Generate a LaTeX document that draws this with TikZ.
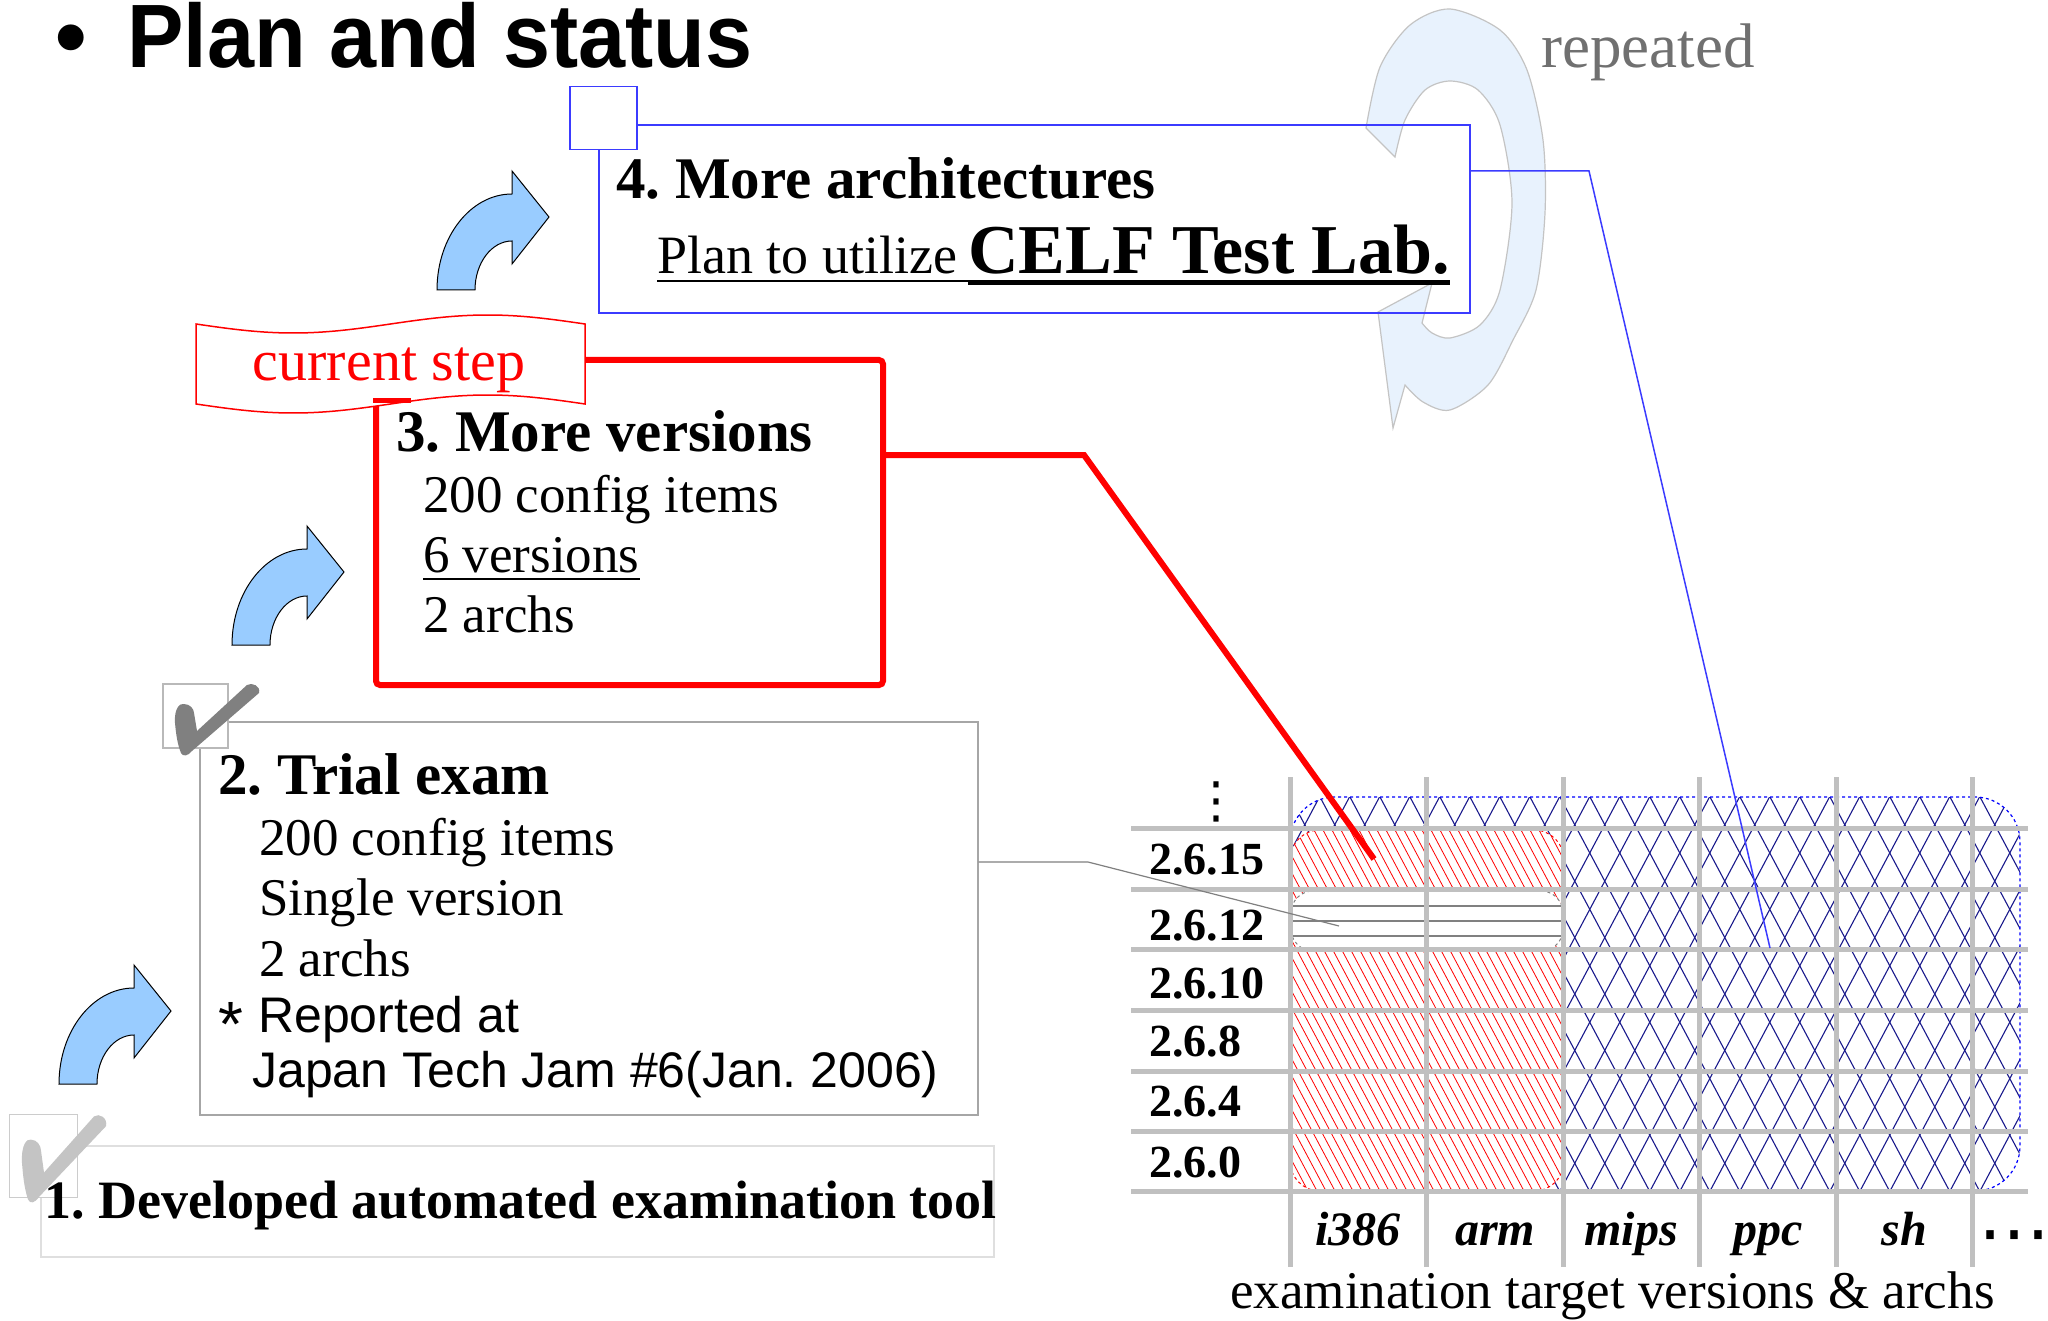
\documentclass[tikz,border=0pt]{standalone}
\usepackage{fontspec}
\setmainfont{Liberation Serif}
\setsansfont{Liberation Sans}
\newfontfamily\symfont{DejaVu Sans}
\newcommand\fsz[1]{\fontsize{#1}{#1}\selectfont}
\frenchspacing
\definecolor{arrowblue}{HTML}{99CCFF}
\definecolor{ringfill}{HTML}{E8F2FD}
\definecolor{ringline}{HTML}{C4C4C4}
\definecolor{gridgray}{HTML}{C0C0C0}
\definecolor{navyhatch}{HTML}{1A1A8C}
\definecolor{boxblue}{HTML}{3B3BFF}
\definecolor{checkdark}{HTML}{808080}
\definecolor{checklight}{HTML}{C4C4C4}
\definecolor{textgray}{HTML}{707070}
\tikzset{
  txt/.style={inner sep=0pt, anchor=base west},
  hdr/.style={txt, font=\bfseries\fsz{59}},
  item/.style={txt, font=\fsz{53}},
  frame/.style={draw, fill=none, inner sep=0pt, anchor=north west},
  gridline/.style={draw=gridgray, line width=5},
  bluehatch/.style={draw=navyhatch, line width=1.1},
  redhatch/.style={draw=red, line width=0.8},
  collabel/.style={inner sep=0pt, anchor=base, font=\bfseries\itshape\fsz{48}},
  rowlabel/.style={txt, font=\bfseries\fsz{46}},
  bendarrow/.pic={
    \path[pic actions] (0,0) .. controls (0,-53) and (33.6,-96) .. (75,-96)
      -- (75,-119) -- (112,-73) -- (75,-26) -- (75,-49)
      .. controls (54.6,-49) and (38,-27) .. (38,0) -- cycle;
  },
  checkmark/.pic={
    \path[pic actions] (13,40) .. controls (12,25) and (18,20) .. (22,21)
      .. controls (28,21) and (32,26) .. (32,30) -- (35,48) -- (85,2)
      .. controls (90,-1) and (99,3) .. (97,10) -- (30,68)
      .. controls (26,73) and (21,74) .. (19,70)
      .. controls (15,60) and (14,50) .. (13,40) -- cycle;
  }
}
\begin{document}
\begin{tikzpicture}[x=1pt, y=-1pt]
\useasboundingbox (0,0) rectangle (2048,1321);
\fill[white] (0,0) rectangle (2048,1321);

% heading
\node[txt, font=\sffamily\bfseries\fsz{90}] (bullet) at (55,68) {\textbullet};
\node[txt, font=\sffamily\bfseries\fsz{90}] (title) at (127,68) {\scalebox{0.94}[1]{Plan and status}};

% circular "repeated" arrow
\path[fill=ringfill, draw=ringline, line width=1.2]
  (1366,128) -- plot[smooth] coordinates {(1366,128) (1380,67) (1410,25) (1450,9) (1500,30) (1527,70) (1543,140) (1545,213) (1536,290) (1513,340) (1488,385) (1450,410) (1423,402) (1405,385)}
  -- (1393,428) -- (1378,312) -- (1432,283)
  -- plot[smooth] coordinates {(1422,323) (1432,333) (1450,338) (1480,325) (1500,290) (1512,203) (1500,125) (1478,90) (1450,81) (1425,90) (1405,120) (1395,157)}
  -- cycle;
\node[txt, font=\fsz{63}, text=textgray] (rep) at (1541,68) {repeated};

% step 4
\node[frame, draw=boxblue, line width=2, minimum width=871, minimum height=188] (box4) at (598,124) {};
\node[frame, draw=boxblue, line width=1.5, fill=white, minimum width=67, minimum height=63] (sq4) at (569,86) {};
\node[hdr] (t4a) at (616,199) {4. More architectures};
\node[txt, font=\fsz{54}] (t4b) at (657,274) {Plan to utilize};
\node[txt, font=\bfseries\fsz{70}] (t4c) at (968,274) {CELF Test Lab.};
\draw[line width=2] ([yshift=-7pt]t4b.base west) -- ([yshift=-7pt]t4c.base west);
\draw[line width=5] ([yshift=-9pt]t4c.base west) -- ([yshift=-9pt]t4c.base east);

% curved step arrows
\pic[fill=arrowblue, draw=black, line width=1] at (437,290) {bendarrow};
\pic[fill=arrowblue, draw=black, line width=1] at (232,645) {bendarrow};
\pic[fill=arrowblue, draw=black, line width=1] at (59,1084) {bendarrow};

% step 3
\node[frame, draw=red, line width=6, rounded corners=4pt, minimum width=507, minimum height=325] (box3) at (373,357) {};
\path[draw=red, line width=1.5, fill=white]
  plot[domain=196:585, samples=60, smooth] (\x,{324+9*sin(0.92545*(\x-196))})
  -- plot[domain=585:196, samples=60, smooth] (\x,{404+9*sin(0.92545*(\x-196))})
  -- cycle;
\draw[red, line width=5] (box3.west |- 0,401) -- ++(38,0);
\node[inner sep=0pt, anchor=base, font=\fsz{58}, text=red] (cur) at (389,381) {current step};
\node[hdr] (t3a) at (396,451) {3. More versions};
\node[item] (t3b) at (423,512) {200 config items};
\node[item] (t3c) at (423,572) {6 versions};
\draw[line width=2] ([yshift=-7pt]t3c.base west) -- ([yshift=-7pt]t3c.base east);
\node[item] (t3d) at (423,632) {2 archs};

% step 2
\node[frame, draw=gray!70, line width=1.5, minimum width=778, minimum height=393] (box2) at (199,721) {};
\node[frame, draw=gray!55, line width=1.5, fill=white, minimum width=65, minimum height=64] (cb2) at (162,683) {};
\pic[fill=checkdark] at (162,683) {checkmark};
\node[hdr] (t2a) at (218,794) {2. Trial exam};
\node[item] (t2b) at (259,855) {200 config items};
\node[item] (t2c) at (259,915) {Single version};
\node[item] (t2d) at (259,976) {2 archs};
\node[txt, font=\sffamily\fsz{50}] (t2e) at (218,1032) {\raisebox{-0.28em}{\fsz{64}*}\hspace{0.3em}Reported at};
\node[txt, font=\sffamily\fsz{50}] (t2f) at (252,1087) {Japan Tech Jam \#6(Jan. 2006)};

% step 1
\node[frame, draw=gray!25, line width=1.5, minimum width=953, minimum height=111] (box1) at (40,1145) {};
\node[frame, draw=gray!40, line width=1.2, fill=white, minimum width=68, minimum height=83] (cb1) at (9,1114) {};
\pic[fill=checklight, yscale=1.22] at (9,1114) {checkmark};
\node[txt, font=\bfseries\fsz{54}] (t1) at (44,1218) {1. Developed automated examination tool};

% table: all versions and archs (cross-hatched)
\begin{scope}
  \clip[rounded corners=45pt] (1290,797) rectangle (2020,1191);
  \foreach \xx in {1080,1110,...,2040} {
    \draw[bluehatch] (\xx,1191) -- ++(209.5,-394);
    \draw[bluehatch] (\xx,797) -- ++(209.5,394);
  }
\end{scope}
\draw[blue, dashed, line width=1.2, rounded corners=45pt] (1290,797) rectangle (2020,1191);

% examined part (red hatch)
\fill[white, rounded corners=30pt] (1290,830) rectangle (1564,1191);
\begin{scope}
  \clip[rounded corners=30pt] (1290,830) rectangle (1564,1191);
  \foreach \xx in {1098,1107,...,1570}
    \draw[redhatch] (\xx,830) -- ++(192,361);
\end{scope}
\draw[red, dashed, line width=1, rounded corners=30pt] (1290,830) rectangle (1564,1191);

% trial row
\fill[white, rounded corners=22pt] (1291,891) rectangle (1563,951);
\begin{scope}
  \clip[rounded corners=22pt] (1291,891) rectangle (1563,951);
  \foreach \yy in {906,921,936}
    \draw[gray, line width=1.4] (1291,\yy) -- (1563,\yy);
\end{scope}
\draw[gray, dashed, line width=1, rounded corners=22pt] (1291,891) rectangle (1563,951);

% grid
\foreach \yy in {828.5,889,949.5,1010,1071,1131,1191.5}
  \draw[gridline] (1131,\yy) -- (2028,\yy);
\foreach \xx in {1290,1426.5,1563,1699.5,1836,1972.5}
  \draw[gridline] (\xx,777) -- (\xx,1267);

% row labels
\node[inner sep=0pt, font=\symfont\fsz{50}] (vdots) at (1216,802) {⋮};
\node[rowlabel] (v15) at (1149,874) {2.6.15};
\node[rowlabel] (v12) at (1149,940) {2.6.12};
\node[rowlabel] (v10) at (1149,998) {2.6.10};
\node[rowlabel] (v8) at (1149,1056) {2.6.8};
\node[rowlabel] (v4) at (1149,1116) {2.6.4};
\node[rowlabel] (v0) at (1149,1177) {2.6.0};

% column labels
\node[collabel] (ci386) at (1358,1245) {i386};
\node[collabel] (carm) at (1495,1245) {arm};
\node[collabel] (cmips) at (1631,1245) {mips};
\node[collabel] (cppc) at (1768,1245) {ppc};
\node[collabel] (csh) at (1904,1245) {sh};
\node[inner sep=0pt, font=\symfont\fsz{72}] (cdots) at (2014,1244) {⋯};
\node[txt, font=\fsz{53}] (caption) at (1230,1308) {examination target versions \& archs};

% connectors
\coordinate (r1) at (1084,455);
\coordinate (r2) at (1374,859);
\draw[red, line width=6] (box3.east |- r1) -- (r1) -- (r2);
\coordinate (b1) at (1589,171);
\coordinate (b2) at (1770,948);
\draw[boxblue, line width=1.5] (box4.east |- b1) -- (b1) -- (b2);
\coordinate (g1) at (1088,862);
\coordinate (g2) at (1339,926);
\draw[gray, line width=1.2] (box2.east |- g1) -- (g1) -- (g2);
\end{tikzpicture}
\end{document}
